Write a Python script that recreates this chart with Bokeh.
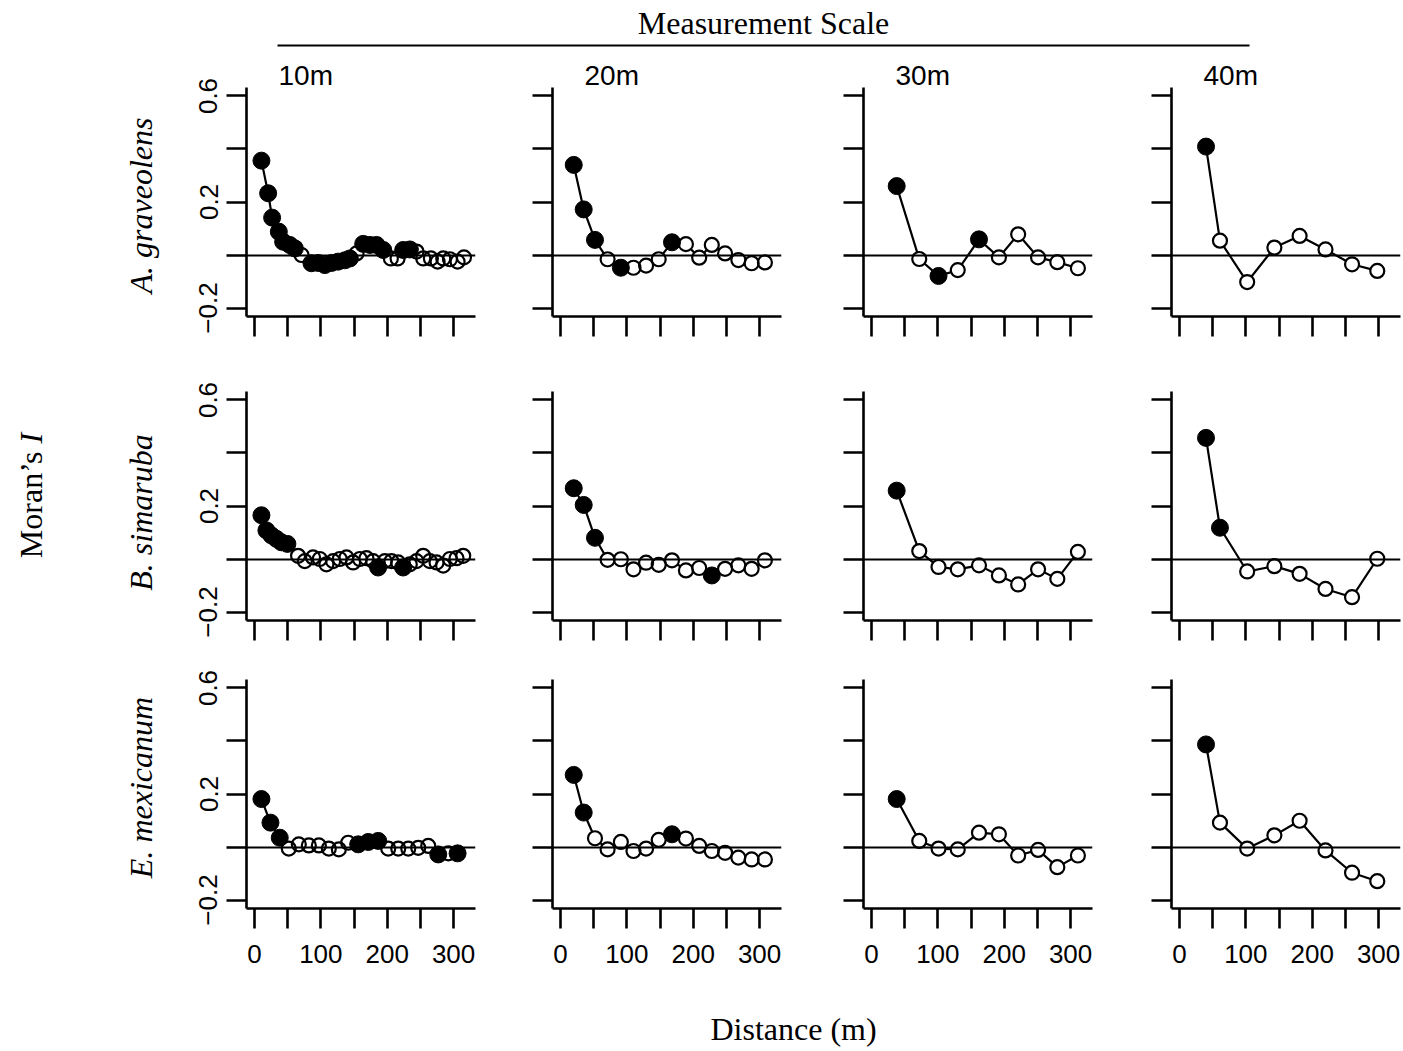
from bokeh.plotting import figure
from bokeh.models import Range1d, FixedTicker
from bokeh.layouts import column, row
from bokeh.embed import file_html
from bokeh.resources import INLINE
from bokeh.core.properties import value
import math

SANS = "Liberation Sans"
SERIF = "Liberation Serif"

species = ["A. graveolens", "B. simaruba", "E. mexicanum"]
scales = ["10m", "20m", "30m", "40m"]

# ---- 10 m lag classes -------------------------------------------------------
ag10_d = [10.5, 20.6, 26.6, 36.7, 43.2, 53.2, 60.8, 70.9, 85.9, 96, 106, 116.1, 126.1, 136.2, 143.7, 153.8,
          163.8, 173.9, 183.9, 194, 205.5, 215.6, 224.1, 234.2, 244.2, 254.3, 265.8, 275.9, 284.4, 294.5, 306, 315.6]
ag10_i = [0.356, 0.233, 0.141, 0.088, 0.05, 0.038, 0.025, 0.0, -0.031, -0.03, -0.038, -0.03, -0.025, -0.02, -0.013, 0.006,
          0.042, 0.038, 0.038, 0.019, -0.013, -0.013, 0.019, 0.021, 0.013, -0.013, -0.013, -0.025, -0.013, -0.016, -0.025, -0.009]
ag10_sig = [1, 1, 1, 1, 1, 1, 1, 0, 1, 1, 1, 1, 1, 1, 1, 0,
            1, 1, 1, 1, 0, 0, 1, 1, 0, 0, 0, 0, 0, 0, 0, 0]

bs10_d = [10.5, 18, 25.6, 33.1, 40.6, 49.6, 65.7, 75.8, 88.3, 98.4, 108.4, 118.5, 128.5, 138.6, 148.6, 158.7,
          168.7, 178.8, 186.3, 196.4, 206.4, 216.5, 224, 234, 244.1, 254.2, 264.2, 274.3, 284.3, 294.4, 304.4, 314.5]
bs10_i = [0.165, 0.108, 0.089, 0.076, 0.063, 0.057, 0.012, -0.008, 0.006, 0.0, -0.02, -0.008, 0.0, 0.006, -0.013, 0.0,
          0.003, -0.008, -0.032, -0.008, -0.008, -0.013, -0.032, -0.02, -0.008, 0.012, -0.008, -0.013, -0.025, 0.0, 0.003, 0.012]
bs10_sig = [1, 1, 1, 1, 1, 1, 0, 0, 0, 0, 0, 0, 0, 0, 0, 0,
            0, 0, 1, 0, 0, 0, 1, 0, 0, 0, 0, 0, 0, 0, 0, 0]

em10_d = [10.5, 24.1, 38.1, 51.7, 66.8, 81.9, 97, 112, 127.1, 141.2, 156.3, 171.4, 186.4, 201.5, 216.6, 231.7,
          246.7, 261.8, 276.9, 292, 306]
em10_i = [0.181, 0.092, 0.035, -0.006, 0.01, 0.006, 0.006, -0.006, -0.009, 0.016, 0.01, 0.019, 0.023, -0.006, -0.006, -0.006,
          -0.003, 0.004, -0.028, -0.024, -0.024]
em10_sig = [1, 1, 1, 0, 0, 0, 0, 0, 0, 0, 1, 1, 1, 0, 0, 0, 0, 0, 1, 0, 1]

# ---- 20 m lag classes -------------------------------------------------------
d20 = [20, 35, 52, 71, 91, 110, 129, 148, 168, 189, 209, 228, 248, 268, 288, 308]
ag20_i = [0.34, 0.172, 0.057, -0.016, -0.048, -0.048, -0.04, -0.016, 0.048, 0.041, -0.01, 0.038, 0.006, -0.019, -0.031, -0.028]
ag20_sig = [1, 1, 1, 0, 1, 0, 0, 0, 1, 0, 0, 0, 0, 0, 0, 0]
bs20_i = [0.267, 0.204, 0.08, -0.003, -0.001, -0.039, -0.014, -0.022, -0.005, -0.043, -0.034, -0.062, -0.037, -0.024, -0.037, -0.005]
bs20_sig = [1, 1, 1, 0, 0, 0, 0, 0, 0, 0, 0, 1, 0, 0, 0, 0]
em20_i = [0.272, 0.13, 0.033, -0.009, 0.019, -0.015, -0.006, 0.027, 0.048, 0.032, 0.004, -0.015, -0.022, -0.04, -0.047, -0.047]
em20_sig = [1, 1, 0, 0, 0, 0, 0, 0, 1, 0, 0, 0, 0, 0, 0, 0]

# ---- 30 m lag classes -------------------------------------------------------
d30 = [38, 72, 101, 130, 162, 192, 221, 251, 280, 311]
ag30_i = [0.26, -0.015, -0.079, -0.057, 0.059, -0.009, 0.078, -0.009, -0.027, -0.05]
ag30_sig = [1, 0, 1, 0, 1, 0, 0, 0, 0, 0]
bs30_i = [0.258, 0.03, -0.03, -0.039, -0.024, -0.062, -0.096, -0.039, -0.075, 0.027]
bs30_sig = [1, 0, 0, 0, 0, 0, 0, 0, 0, 0]
em30_i = [0.181, 0.023, -0.006, -0.009, 0.054, 0.048, -0.032, -0.011, -0.076, -0.032]
em30_sig = [1, 0, 0, 0, 0, 0, 0, 0, 0, 0]

# ---- 40 m lag classes -------------------------------------------------------
d40 = [40, 61, 102, 143, 181, 220, 260, 298]
ag40_i = [0.409, 0.054, -0.102, 0.028, 0.072, 0.021, -0.035, -0.06]
ag40_sig = [1, 0, 0, 0, 0, 0, 0, 0]
bs40_i = [0.457, 0.118, -0.047, -0.027, -0.056, -0.113, -0.144, 0.001]
bs40_sig = [1, 1, 0, 0, 0, 0, 0, 0]
em40_i = [0.387, 0.092, -0.006, 0.044, 0.099, -0.013, -0.097, -0.129]
em40_sig = [1, 0, 0, 0, 0, 0, 0, 0]

y_ticks = [-0.2, 0.2, 0.6]
y_minor = [0.0, 0.4]
x_ticks = [0, 100, 200, 300]
x_minor = [50, 150, 250]

panels = {
    (0, 0): (ag10_d, ag10_i, ag10_sig), (0, 1): (d20, ag20_i, ag20_sig),
    (0, 2): (d30, ag30_i, ag30_sig), (0, 3): (d40, ag40_i, ag40_sig),
    (1, 0): (bs10_d, bs10_i, bs10_sig), (1, 1): (d20, bs20_i, bs20_sig),
    (1, 2): (d30, bs30_i, bs30_sig), (1, 3): (d40, bs40_i, bs40_sig),
    (2, 0): (em10_d, em10_i, em10_sig), (2, 1): (d20, em20_i, em20_sig),
    (2, 2): (d30, em30_i, em30_sig), (2, 3): (d40, em40_i, em40_sig),
}

# layout (pixels)
FRAME_W, FRAME_H = 229, 229
col_left = [66, 72, 77, 74]
col_right = [5, 5, 5, 3]
row_top = [35, 41, 19]
row_bottom = [34, 40, 67]
X_RANGE = (-12, 333)
Y_RANGE = (-0.232, 0.632)
AX_W = 2.6


def make_panel(r, c):
    d, vals, sig = panels[(r, c)]
    p = figure(frame_width=FRAME_W, frame_height=FRAME_H,
               x_range=Range1d(*X_RANGE), y_range=Range1d(*Y_RANGE),
               output_backend="svg", toolbar_location=None,
               min_border_left=col_left[c], min_border_right=col_right[c],
               min_border_top=row_top[r], min_border_bottom=row_bottom[r])
    p.outline_line_color = None
    p.grid.visible = False
    p.background_fill_color = "white"
    p.border_fill_color = "white"

    for ax in (p.xaxis[0], p.yaxis[0]):
        ax.axis_line_width = AX_W
        ax.axis_line_color = "black"
        ax.major_tick_out = 20
        ax.major_tick_in = 0
        ax.minor_tick_out = 20
        ax.minor_tick_in = 0
        ax.major_tick_line_width = AX_W
        ax.minor_tick_line_width = AX_W
        ax.major_tick_line_color = "black"
        ax.minor_tick_line_color = "black"
        ax.major_label_text_font = SANS
        ax.major_label_text_color = "black"

    xa = p.xaxis[0]
    xa.ticker = FixedTicker(ticks=x_ticks, minor_ticks=x_minor)
    if r == 2:
        xa.major_label_text_font_size = "26px"
        xa.major_label_standoff = 16
    else:
        xa.major_label_overrides = {t: "" for t in x_ticks}
        xa.major_label_text_font_size = "1px"
        xa.major_label_standoff = 0

    ya = p.yaxis[0]
    ya.ticker = FixedTicker(ticks=y_ticks, minor_ticks=y_minor)
    ya.major_label_orientation = "vertical"
    if c == 0:
        ya.major_label_text_font_size = "26px"
        ya.major_label_standoff = 9
        ya.major_label_overrides = {-0.2: "\u22120.2"}
    else:
        ya.major_label_overrides = {t: "" for t in y_ticks}
        ya.major_label_text_font_size = "1px"
        ya.major_label_standoff = 0

    if r == 0:
        p.title.text = scales[c]
        p.title.text_font = SANS
        p.title.text_font_size = "28px"
        p.title.text_font_style = "normal"
        p.title.text_color = "black"
        p.title.align = "left"
        p.title.offset = 32
        p.title.standoff = -7

    xs_open = [x for x, s in zip(d, sig) if not s]
    ys_open = [y for y, s in zip(vals, sig) if not s]
    xs_fill = [x for x, s in zip(d, sig) if s]
    ys_fill = [y for y, s in zip(vals, sig) if s]

    p.line(d, vals, line_color="black", line_width=2.2)
    p.scatter(xs_open, ys_open, size=14, fill_color="white", line_color=None)
    p.hspan(y=[0], line_color="black", line_width=2.2)
    p.scatter(xs_open, ys_open, size=14, fill_color=None, line_color="black", line_width=2.2)
    p.scatter(xs_fill, ys_fill, size=17, fill_color="black", line_color="black", line_width=1)
    return p


def blank(w, h):
    p = figure(frame_width=w, frame_height=h, x_range=Range1d(0, w), y_range=Range1d(0, h),
               output_backend="svg", toolbar_location=None,
               min_border=0, min_border_left=0, min_border_right=0, min_border_top=0, min_border_bottom=0)
    p.axis.visible = False
    p.grid.visible = False
    p.outline_line_color = None
    return p


TOTAL_W = 1403
HEAD_H = 52
FOOT_H = 76
LEFT_W = 180

header = blank(TOTAL_W, HEAD_H)
header.text(x=[763], y=[29.5], text=["Measurement Scale"], text_font=value(SERIF), text_font_size="32px",
            text_align="center", text_baseline="middle", text_color="black")
header.segment(x0=[277], y0=[7], x1=[1249], y1=[7], line_color="black", line_width=2)

rows = []
for r in range(3):
    rows.append(row(*[make_panel(r, c) for c in range(4)], spacing=0))
grid = column(*rows, spacing=0)

panel_h = sum(row_top) + sum(row_bottom) + 3 * FRAME_H   # 923 px, page y 52..975
left = blank(LEFT_W, panel_h)
# "Moran's I" (roman + italic I), rotated
left.text(x=[30], y=[524], text=["Moran\u2019s"], text_font=value(SERIF), text_font_size="32px",
          angle=math.pi / 2, text_align="right", text_baseline="middle", text_color="black")
left.text(x=[30], y=[532], text=["I"], text_font=value(SERIF), text_font_size="32px", text_font_style="italic",
          angle=math.pi / 2, text_align="left", text_baseline="middle", text_color="black")
# species names (row labels)
species_y = [770, 463, 188]
left.text(x=[140, 140, 140], y=species_y, text=species, text_font=value(SERIF), text_font_size="32px",
          text_font_style="italic", angle=math.pi / 2, text_align="center", text_baseline="middle",
          text_color="black")

footer = blank(TOTAL_W, FOOT_H)
footer.text(x=[793], y=[23], text=["Distance (m)"], text_font=value(SERIF), text_font_size="32px",
            text_align="center", text_baseline="middle", text_color="black")

page = column(header, row(left, grid, spacing=0), footer, spacing=0)

open("out.html", "w").write(file_html(page, INLINE))
